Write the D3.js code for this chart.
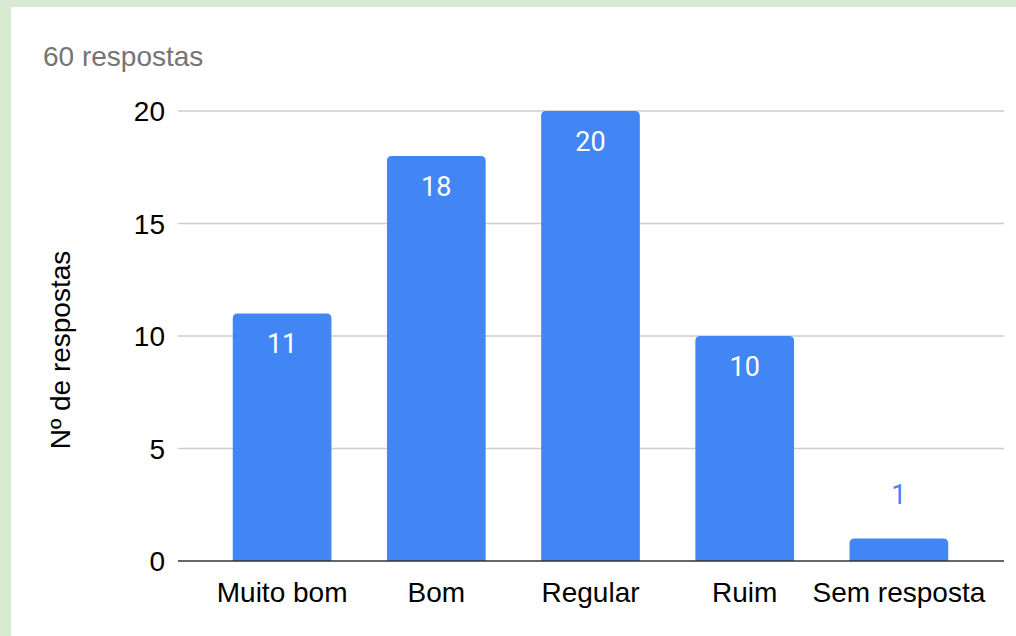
<!DOCTYPE html>
<html><head><meta charset="utf-8">
<script src="https://cdn.jsdelivr.net/npm/d3@7"></script>
<style>
html,body{margin:0;padding:0;background:#d9ead3;}
svg{display:block;}
</style></head>
<body>
<script>
const categories = ["Muito bom", "Bom", "Regular", "Ruim", "Sem resposta"];
const values = [11, 18, 20, 10, 1];
const yTicks = [0, 5, 10, 15, 20];
const subtitle = "60 respostas";
const yTitle = "Nº de respostas";

const W = 1016, H = 636;
const svg = d3.select("body").append("svg").attr("width", W).attr("height", H);
svg.append("rect").attr("width", W).attr("height", H).attr("fill", "#d9ead3");
svg.append("rect").attr("x", 11).attr("y", 7).attr("width", W - 11).attr("height", H - 7).attr("fill", "#fff");

const font = "Liberation Sans, Arial, sans-serif";
const y = d3.scaleLinear().domain([0, 20]).range([561, 111]);
const x = d3.scaleBand().domain(categories).range([205, 976]).paddingInner(0.36).paddingOuter(0.18);
const gx0 = 178, gx1 = 1004;

// gridlines
svg.append("g").selectAll("line").data(yTicks.filter(d => d > 0)).join("line")
  .attr("x1", gx0).attr("x2", gx1).attr("y1", d => y(d)).attr("y2", d => y(d))
  .attr("stroke", "#cccccc").attr("stroke-width", 1.5);

// y tick labels
svg.append("g").selectAll("text").data(yTicks).join("text")
  .attr("x", 165).attr("y", d => y(d)).attr("dy", "0.36em")
  .attr("text-anchor", "end").attr("font-family", font).attr("font-size", 28)
  .attr("fill", "#000").text(d => d);

// bars (rounded top corners)
const r = 5;
svg.append("g").selectAll("path").data(values).join("path")
  .attr("d", (d, i) => {
    const x0 = x(categories[i]), w = x.bandwidth(), y0 = y(d), yb = y(0);
    const rr = Math.min(r, (yb - y0));
    return `M${x0},${yb} V${y0 + rr} Q${x0},${y0} ${x0 + rr},${y0} H${x0 + w - rr} Q${x0 + w},${y0} ${x0 + w},${y0 + rr} V${yb} Z`;
  })
  .attr("fill", "#4285f4");

// baseline
svg.append("line").attr("x1", gx0).attr("x2", gx1).attr("y1", y(0)).attr("y2", y(0))
  .attr("stroke", "#333").attr("stroke-width", 1.5);

// value labels
svg.append("g").selectAll("text").data(values).join("text")
  .attr("x", (d, i) => x(categories[i]) + x.bandwidth() / 2)
  .attr("y", d => (y(0) - y(d) > 50) ? y(d) + 30 : y(d) - 44)
  .attr("dy", "0.36em")
  .attr("text-anchor", "middle").attr("font-family", "Roboto, " + font).attr("font-size", 27)
  .attr("fill", d => (y(0) - y(d) > 50) ? "#ffffff" : "#4285f4")
  .text(d => d);

// x labels
svg.append("g").selectAll("text").data(categories).join("text")
  .attr("x", d => x(d) + x.bandwidth() / 2).attr("y", 592).attr("dy", "0.36em")
  .attr("text-anchor", "middle").attr("font-family", font).attr("font-size", 28)
  .attr("fill", "#000").text(d => d);

// subtitle
svg.append("text").attr("x", 43).attr("y", 56).attr("dy", "0.36em")
  .attr("font-family", font).attr("font-size", 28).attr("fill", "#757575").text(subtitle);

// y title
svg.append("text").attr("transform", "translate(60,350) rotate(-90)")
  .attr("dy", "0.36em").attr("text-anchor", "middle")
  .attr("font-family", font).attr("font-size", 28).attr("fill", "#000").text(yTitle);
</script>
</body></html>
